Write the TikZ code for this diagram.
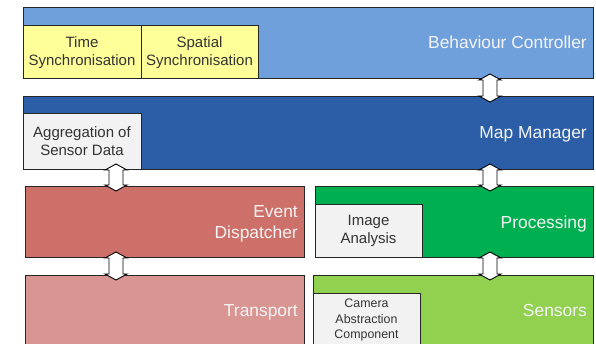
\documentclass[tikz,border=0pt]{standalone}
\usepackage{fontspec}
\setmainfont{Liberation Sans}
\usetikzlibrary{calc}

\definecolor{bcblue}{HTML}{6FA0DC}
\definecolor{mmblue}{HTML}{2B5EA7}
\definecolor{synyellow}{HTML}{FFFF99}
\definecolor{subgray}{HTML}{F2F2F2}
\definecolor{evred}{HTML}{CC7069}
\definecolor{trred}{HTML}{D99592}
\definecolor{prgreen}{HTML}{00B050}
\definecolor{segreen}{HTML}{92D050}
\definecolor{edgegray}{HTML}{262626}
\definecolor{labelwhite}{HTML}{F4F4F4}
\definecolor{subtext}{HTML}{333333}

\tikzset{
  layer/.style={draw=edgegray, line width=1pt, inner sep=0pt, outer sep=0pt,
                anchor=south west},
  sublayer/.style={layer, fill=subgray, align=center, text=subtext,
                   font=\fontsize{15}{18}\selectfont},
  layerlabel/.style={anchor=east, align=right, text=labelwhite, inner sep=0pt,
                     font=\fontsize{17.4}{21}\selectfont},
  blockarrow/.style={draw=black, fill=white, line width=0.9pt, line join=miter},
}

% double-headed block arrow at horizontal position #1 between node #2 (above) and #3 (below)
\newcommand{\dblarrow}[3]{%
  \path let \p1=(#2.south), \p2=(#3.north) in
    [blockarrow]
    (#1pt, \y1+5pt) -- (#1pt+11pt, \y1-1pt) -- (#1pt+7pt, \y1-1pt)
    -- (#1pt+7pt, \y2+1pt) -- (#1pt+11pt, \y2+1pt) -- (#1pt, \y2-5pt)
    -- (#1pt-11pt, \y2+1pt) -- (#1pt-7pt, \y2+1pt) -- (#1pt-7pt, \y1-1pt)
    -- (#1pt-11pt, \y1-1pt) -- cycle;}

\begin{document}
\begin{tikzpicture}[x=1pt, y=1pt]
  \useasboundingbox (0,0) rectangle (596,343);
  \clip (0,0) rectangle (596,343);
  \fill[white] (0,0) rectangle (596,343);

  % Behaviour Controller
  \node[layer, fill=bcblue, minimum width=570pt, minimum height=71pt] (bc) at (23,264) {};
  \node[layerlabel] (bclabel) at ($(bc.east)+(-6,1)$) {Behaviour Controller};
  \node[sublayer, fill=synyellow, minimum width=118pt, minimum height=53pt] (timesync) at (23,264)
    {Time\\Synchronisation};
  \node[sublayer, fill=synyellow, minimum width=117pt, minimum height=53pt] (spatsync) at (141,264)
    {Spatial\\Synchronisation};

  % Map Manager
  \node[layer, fill=mmblue, minimum width=570pt, minimum height=72pt] (mm) at (23,174) {};
  \node[layerlabel] (mmlabel) at ($(mm.east)+(-6,-1)$) {Map Manager};
  \node[sublayer, minimum width=118pt, minimum height=55pt] (agg) at (23,174)
    {Aggregation of\\Sensor Data};

  % Event Dispatcher
  \node[layer, fill=evred, minimum width=279pt, minimum height=71pt] (ed) at (25,86) {};
  \node[layerlabel] (edlabel) at ($(ed.east)+(-6,-2)$) {Event\\Dispatcher};

  % Transport
  \node[layer, fill=trred, minimum width=279pt, minimum height=72pt] (tr) at (25,-4) {};
  \node[layerlabel] (trlabel) at ($(tr.east)+(-6,-1)$) {Transport};

  % Processing
  \node[layer, fill=prgreen, minimum width=278pt, minimum height=71pt] (pr) at (315,86) {};
  \node[layerlabel] (prlabel) at ($(pr.east)+(-6,-2)$) {Processing};
  \node[sublayer, minimum width=107pt, minimum height=53pt] (img) at (315,86)
    {Image\\Analysis};

  % Sensors
  \node[layer, fill=segreen, minimum width=280pt, minimum height=72pt] (se) at (313,-4) {};
  \node[layerlabel] (selabel) at ($(se.east)+(-6,0)$) {Sensors};
  \node[sublayer, minimum width=107pt, minimum height=54pt,
        font=\fontsize{12.4}{15.3}\selectfont] (cam) at (313,-4)
    {Camera\\Abstraction\\Component};

  % connectors between layers
  \dblarrow{490}{bc}{mm}
  \dblarrow{490}{mm}{pr}
  \dblarrow{490}{pr}{se}
  \dblarrow{116}{agg}{ed}
  \dblarrow{116}{ed}{tr}
\end{tikzpicture}
\end{document}
